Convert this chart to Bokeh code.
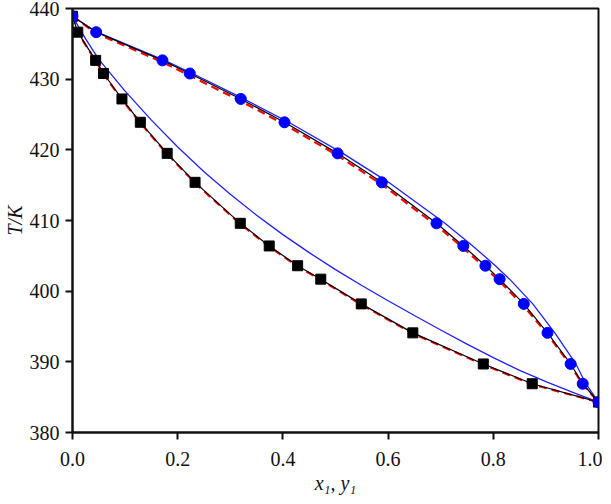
from bokeh.plotting import figure
from bokeh.models import Range1d, FixedTicker, NumeralTickFormatter
from bokeh.embed import file_html
from bokeh.resources import INLINE

# Experimental T-x-y data
T_exp = [438.9, 436.65, 432.66, 430.8, 427.2, 423.9, 419.5, 415.4, 409.6, 406.4,
         403.6, 401.7, 398.2, 394.1, 389.7, 386.9, 384.3]
x_liq = [0.0, 0.010, 0.044, 0.059, 0.094, 0.129, 0.180, 0.233, 0.319, 0.374,
         0.428, 0.472, 0.549, 0.647, 0.781, 0.874, 1.0]
y_vap = [0.0, 0.045, 0.171, 0.223, 0.320, 0.403, 0.504, 0.588, 0.692, 0.743,
         0.785, 0.812, 0.858, 0.903, 0.947, 0.970, 1.0]

# Model 2 (red dashed)
T_red_liq = [438.9, 436.6, 432.6, 430.7, 427.1, 423.8, 419.4, 415.3, 409.5, 406.3,
             403.5, 401.6, 398.1, 394.0, 389.6, 386.8, 384.3]
T_red_vap = [438.9, 436.5, 432.4, 430.5, 426.9, 423.6, 419.2, 415.1, 409.3, 406.1,
             403.3, 401.4, 397.9, 393.9, 389.5, 386.8, 384.3]

# Model 3 (blue solid)
x_blue_liq = [0.0, 0.025, 0.05, 0.1, 0.15, 0.2, 0.25, 0.3, 0.35, 0.4, 0.45, 0.5,
              0.55, 0.6, 0.65, 0.7, 0.75, 0.8, 0.85, 0.9, 0.95, 1.0]
T_blue_liq = [438.9, 435.7, 432.8, 428.3, 424.2, 420.4, 416.9, 413.7, 410.75, 408.0,
              405.45, 403.05, 400.8, 398.65, 396.55, 394.5, 392.5, 390.6, 388.8, 387.2,
              385.7, 384.3]
y_blue_vap = [0.0, 0.047, 0.175, 0.228, 0.326, 0.411, 0.514, 0.601, 0.708, 0.761,
              0.804, 0.831, 0.875, 0.917, 0.957, 0.976, 1.0]

x_ticks = [0.0, 0.2, 0.4, 0.6, 0.8, 1.0]
y_ticks = [380, 390, 400, 410, 420, 430, 440]

FONT = "Liberation Serif"

p = figure(width=602, height=496, output_backend="svg",
           toolbar_location=None,
           x_range=Range1d(0, 1), y_range=Range1d(380, 440),
           min_border_left=70, min_border_right=4, min_border_top=8,
           min_border_bottom=63)

p.grid.visible = False
p.outline_line_color = "#111111"
p.outline_line_width = 2
p.background_fill_color = "white"
p.border_fill_color = "white"

for ax in (p.xaxis[0], p.yaxis[0]):
    ax.axis_line_width = 2
    ax.axis_line_color = "#111111"
    ax.major_tick_line_width = 2
    ax.major_tick_line_color = "#111111"
    ax.major_tick_in = 0
    ax.major_tick_out = 7
    ax.minor_tick_line_color = None
    ax.major_label_text_font = FONT
    ax.major_label_text_font_size = "20px"
    ax.major_label_text_color = "#111111"
    ax.axis_label_text_font = FONT
    ax.axis_label_text_font_size = "20px"
    ax.axis_label_text_font_style = "italic"
    ax.axis_label_text_color = "#111111"

p.xaxis.ticker = FixedTicker(ticks=x_ticks)
p.yaxis.ticker = FixedTicker(ticks=y_ticks)
p.xaxis.formatter = NumeralTickFormatter(format="0.0")
p.xaxis.major_label_standoff = 12
p.yaxis.major_label_standoff = 6
p.xaxis.axis_label = "x\u2081, y\u2081"
p.yaxis.axis_label = "T/K"
p.xaxis.axis_label_standoff = 3
p.yaxis.axis_label_standoff = 1

# lines
p.line(x_blue_liq, T_blue_liq, line_color="#2020ff", line_width=1.3)
p.line(y_blue_vap, T_exp, line_color="#2020ff", line_width=1.3)
p.line(x_liq, T_red_liq, line_color="red", line_width=2.2, line_dash="8 5")
p.line(y_vap, T_red_vap, line_color="red", line_width=2.2, line_dash="8 5")
p.line(x_liq, T_exp, line_color="black", line_width=1.2)
p.line(y_vap, T_exp, line_color="black", line_width=1.2)

# markers
p.scatter(x_liq, T_exp, marker="square", size=10, fill_color="black", line_color="black")
p.scatter(y_vap, T_exp, marker="circle", size=11, fill_color="#0000ff", line_color="#0000ff")

open("out.html", "w").write(file_html(p, INLINE))
